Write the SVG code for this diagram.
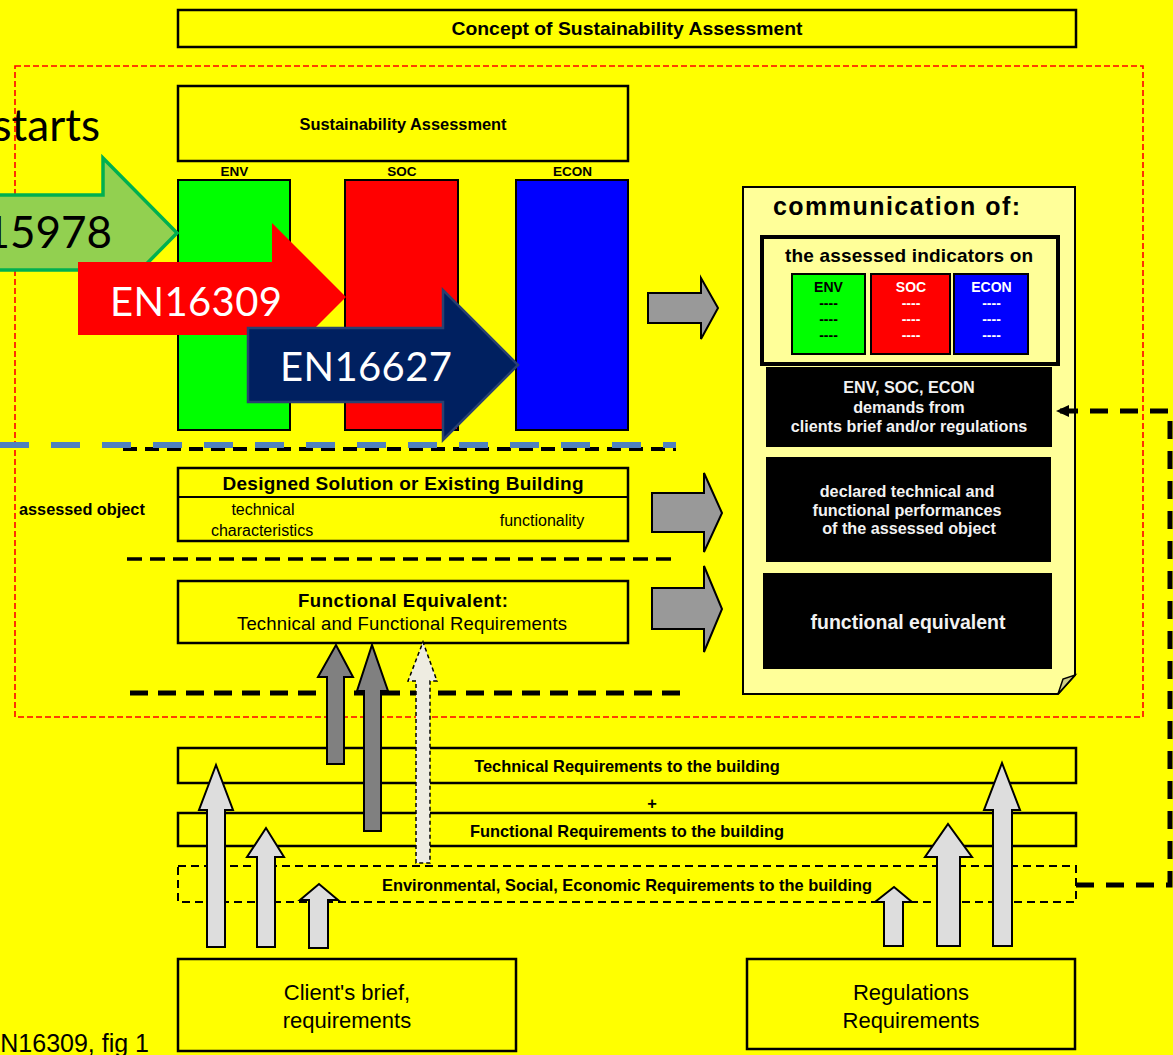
<svg xmlns="http://www.w3.org/2000/svg" width="1173" height="1055" viewBox="0 0 1173 1055">
  <style>
    .sans{font-family:"Liberation Sans",Arial,sans-serif}
    .bold{font-family:"Liberation Sans",Arial,sans-serif;font-weight:bold}
    .cal{font-family:Lato,"Open Sans",sans-serif}
    .box{fill:#FFFF00;stroke:#000;stroke-width:2.5}
    .bar{stroke:#000;stroke-width:2}
    .dark{fill:#000}
    .wt{fill:#F2F2F2}
    .mid{text-anchor:middle}
    .up{fill:#DDDDDD;stroke:#000;stroke-width:2}
    .updark{fill:#808080;stroke:#000;stroke-width:2}
    .right{fill:#999999;stroke:#000;stroke-width:2}
  </style>
  <defs>
    <marker id="tri" markerUnits="userSpaceOnUse" viewBox="0 0 13 12" refX="13" refY="6" markerWidth="13" markerHeight="12" orient="auto">
      <path d="M0,0 L13,6 L0,12 Z" fill="#000"/>
    </marker>
  </defs>

  <!-- page -->
  <rect x="0" y="0" width="1173" height="1055" fill="#FFFF00"/>

  <!-- title -->
  <g id="title">
    <rect class="box" x="178" y="10" width="898" height="37"/>
    <text class="bold mid" x="627" y="35" font-size="18.5" textLength="351" lengthAdjust="spacingAndGlyphs">Concept of Sustainability Assessment</text>
  </g>

  <!-- scope of the assessment -->
  <rect id="scope" x="15" y="66" width="1128" height="651" fill="none" stroke="#FF0000" stroke-width="1.6" stroke-dasharray="6 3"/>

  <g id="starts">
    <text class="cal" x="100" y="141" font-size="44" text-anchor="end">starts</text>
  </g>

  <g id="sustainability-assessment">
    <rect class="box" x="178" y="86" width="450" height="75" stroke-width="2"/>
    <text class="bold mid" x="403" y="130" font-size="16.4">Sustainability Assessment</text>
  </g>

  <g id="pillars">
    <text class="bold mid" x="234.5" y="176" font-size="13.5">ENV</text>
    <text class="bold mid" x="402" y="176" font-size="13.5">SOC</text>
    <text class="bold mid" x="572.5" y="176" font-size="13.5">ECON</text>
    <rect class="bar" x="178" y="180" width="112" height="250" fill="#00FF00"/>
    <rect class="bar" x="345" y="180" width="113" height="250" fill="#FF0000"/>
    <rect class="bar" x="516" y="180" width="112" height="250" fill="#0000FF"/>
  </g>

  <!-- standards feeding the pillars -->
  <g id="en15978">
    <polygon points="-20,195 103,195 103,158 177,233 103,308 103,270 -20,270" fill="#92D050" stroke="#00B050" stroke-width="3.5"/>
    <text class="cal" x="112" y="248" font-size="44" text-anchor="end">15978</text>
  </g>
  <g id="en16309">
    <polygon points="78,262 272,262 272,223 346,297 272,371 272,335 78,335" fill="#FF0000"/>
    <text class="cal" x="110" y="316" font-size="40" fill="#FFFFFF" textLength="172">EN16309</text>
  </g>
  <g id="en16627">
    <polygon points="248,328 443,328 443,290 518,365 443,440 443,402 248,402" fill="#002060" stroke="#2A4170" stroke-width="2.5"/>
    <text class="cal" x="280" y="381" font-size="40" fill="#FFFFFF" textLength="172">EN16627</text>
  </g>

  <!-- separators -->
  <g id="separators" fill="none">
    <line x1="123" y1="449" x2="676" y2="449" stroke="#000" stroke-width="4" stroke-dasharray="14 8"/>
    <line x1="0" y1="445" x2="676" y2="445" stroke="#4F81BD" stroke-width="6" stroke-dasharray="29 22"/>
    <line x1="127" y1="559" x2="678" y2="559" stroke="#000" stroke-width="3.5" stroke-dasharray="15 8"/>
    <line x1="130" y1="693" x2="680" y2="693" stroke="#000" stroke-width="5" stroke-dasharray="18 10"/>
  </g>

  <g id="assessed-object">
    <text class="bold" x="19" y="515" font-size="16.3">assessed object</text>
  </g>

  <g id="designed-solution">
    <rect class="box" x="178" y="468" width="450" height="73" stroke-width="2"/>
    <line x1="178" y1="497" x2="628" y2="497" stroke="#000" stroke-width="2"/>
    <text class="bold mid" x="403" y="490" font-size="19" textLength="361">Designed Solution or Existing Building</text>
    <text class="sans mid" x="263" y="515" font-size="16">technical</text>
    <text class="sans mid" x="262" y="536" font-size="16">characteristics</text>
    <text class="sans mid" x="542" y="526" font-size="16">functionality</text>
  </g>

  <g id="functional-equivalent">
    <rect class="box" x="178" y="581" width="450" height="62" stroke-width="2"/>
    <text class="bold mid" x="403" y="607" font-size="18.5" textLength="210">Functional Equivalent:</text>
    <text class="sans mid" x="402" y="630" font-size="18.5" textLength="330">Technical and Functional Requirements</text>
  </g>

  <!-- communication document -->
  <g id="communication">
    <path d="M743,187 H1075 V675 L1058,694 H743 Z" fill="#FFFF99" stroke="#000" stroke-width="2"/>
    <path d="M1058,694 L1063,679 L1075,675 Z" fill="#CDCD85" stroke="#000" stroke-width="1.5"/>
    <text class="bold" x="773" y="215" font-size="25" textLength="247">communication of:</text>
  </g>

  <g id="indicators">
    <rect x="762" y="237" width="296" height="127" fill="#FFFF99" stroke="#000" stroke-width="4"/>
    <text class="bold mid" x="909" y="262" font-size="19" textLength="248">the assessed indicators on</text>
    <rect class="bar" x="792" y="274" width="73" height="80" fill="#00FF00"/>
    <rect class="bar" x="871" y="274" width="79" height="80" fill="#FF0000"/>
    <rect class="bar" x="954" y="274" width="74" height="80" fill="#0000FF"/>
    <g class="bold mid" font-size="14">
      <text x="828.5" y="292">ENV</text>
      <text x="828.5" y="307.5">----</text>
      <text x="828.5" y="323.5">----</text>
      <text x="828.5" y="339.5">----</text>
    </g>
    <g class="bold mid" font-size="14" fill="#FFFFFF">
      <text x="911" y="292">SOC</text>
      <text x="911" y="307.5">----</text>
      <text x="911" y="323.5">----</text>
      <text x="911" y="339.5">----</text>
      <text x="991.5" y="292">ECON</text>
      <text x="991.5" y="307.5">----</text>
      <text x="991.5" y="323.5">----</text>
      <text x="991.5" y="339.5">----</text>
    </g>
  </g>

  <g id="demands">
    <rect class="dark" x="766" y="367" width="286" height="80"/>
    <g class="bold mid wt" font-size="16.2">
      <text x="909" y="393">ENV, SOC, ECON</text>
      <text x="909" y="413">demands from</text>
      <text x="909" y="432">clients brief and/or regulations</text>
    </g>
  </g>

  <g id="declared-performances">
    <rect class="dark" x="766" y="457" width="285" height="105"/>
    <g class="bold mid wt" font-size="16.2">
      <text x="907" y="497">declared technical and</text>
      <text x="907" y="516">functional performances</text>
      <text x="909" y="534">of the assessed object</text>
    </g>
  </g>

  <g id="functional-equivalent-out">
    <rect class="dark" x="763" y="573" width="289" height="96"/>
    <text class="bold mid wt" x="908" y="629" font-size="19.5">functional equivalent</text>
  </g>

  <!-- requirements to the building -->
  <g id="technical-requirements">
    <rect class="box" x="178" y="748" width="898" height="35" stroke-width="2"/>
    <text class="bold mid" x="627" y="772" font-size="16.4">Technical Requirements to the building</text>
  </g>
  <g id="plus">
    <text class="bold mid" x="652" y="809" font-size="16.4">+</text>
  </g>
  <g id="functional-requirements">
    <rect class="box" x="178" y="813" width="898" height="33" stroke-width="2"/>
    <text class="bold mid" x="627" y="837" font-size="16.4">Functional Requirements to the building</text>
  </g>
  <g id="esc-requirements">
    <rect x="178" y="866" width="898" height="36" fill="#FFFF00" stroke="#000" stroke-width="2" stroke-dasharray="8 5"/>
    <text class="bold mid" x="627" y="891" font-size="16.4">Environmental, Social, Economic Requirements to the building</text>
  </g>

  <g id="clients-brief">
    <rect class="box" x="178" y="959" width="338" height="92" stroke-width="2"/>
    <text class="sans mid" x="347" y="1000" font-size="22">Client's brief,</text>
    <text class="sans mid" x="347" y="1028" font-size="22">requirements</text>
  </g>
  <g id="regulations">
    <rect class="box" x="747" y="959" width="328" height="90" stroke-width="2"/>
    <text class="sans mid" x="911" y="1000" font-size="22">Regulations</text>
    <text class="sans mid" x="911" y="1028" font-size="22">Requirements</text>
  </g>

  <g id="source">
    <text class="sans" x="149" y="1052" font-size="25" text-anchor="end">N16309, fig 1</text>
  </g>

  <!-- connectors -->
  <g id="connectors">
    <polygon class="right" points="648,293 701,293 701,278 718,308 701,339 701,323 648,323"/>
    <polygon class="right" points="652,493 704,493 704,473 722,513 704,552 704,532 652,532"/>
    <polygon class="right" points="652,588 704,588 704,566 722,609 704,652 704,629 652,629"/>

    <polygon class="up" points="207,947 207,810 199,810 216,765 233,810 225,810 225,947"/>
    <polygon class="up" points="257,947 257,857 247,857 266,828 284,857 275,857 275,947"/>
    <polygon class="up" points="309,948 309,900 300,900 319,884 338,900 328,900 328,948"/>
    <polygon class="updark" points="327,764 327,677 318,677 336,645 353,677 344,677 344,764"/>
    <polygon class="updark" points="364,831 364,691 357,691 372,645 388,691 381,691 381,831"/>
    <polygon points="416,863 416,681 408,681 423,642 437,681 430,681 430,863" fill="#EEECE1" stroke="#000" stroke-width="1.5" stroke-dasharray="4 3"/>

    <polygon class="up" points="993,946 993,810 984,810 1002,763 1020,810 1012,810 1012,946"/>
    <polygon class="up" points="937,946 937,857 925,857 948,824 972,857 960,857 960,946"/>
    <polygon class="up" points="884,946 884,902 875,902 894,887 912,902 903,902 903,946"/>

    <path d="M1076,885 H1170 V411 H1056" fill="none" stroke="#000" stroke-width="5" stroke-dasharray="18 12" marker-end="url(#tri)"/>
  </g>
</svg>
